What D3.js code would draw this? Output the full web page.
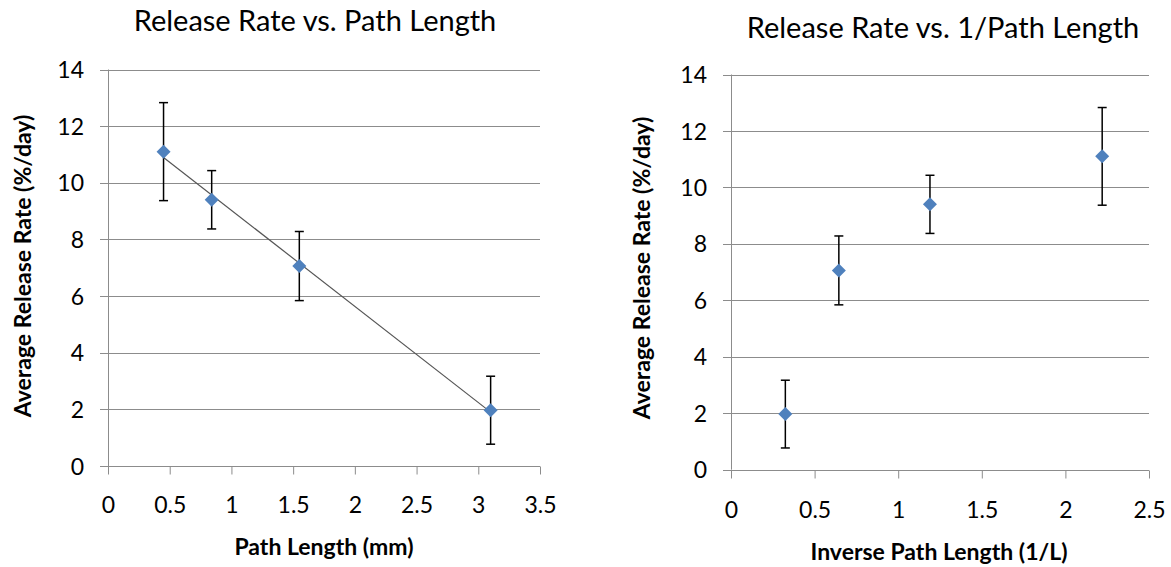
<!DOCTYPE html>
<html>
<head>
<meta charset="utf-8">
<script src="https://cdn.jsdelivr.net/npm/d3@7"></script>
<style>
  html, body { margin: 0; padding: 0; background: #fff; }
  svg { display: block; font-family: Lato, "Open Sans", sans-serif; }
</style>
</head>
<body>
<svg id="chart" width="1171" height="567"></svg>
<script>
// Path length of each sample (mm) and measured average release rate (%/day)
const pathLength = [0.45, 0.84, 1.55, 3.1];
const releaseRate = [11.1, 9.4, 7.06, 1.97];
// Standard deviation of release rate (symmetric error bars)
const rateError = [1.73, 1.03, 1.22, 1.2];
// Inverse path length (1/L)
const inversePath = [2.22, 1.19, 0.645, 0.325];

const xTicksLeft = [0, 0.5, 1, 1.5, 2, 2.5, 3, 3.5];
const xTicksRight = [0, 0.5, 1, 1.5, 2, 2.5];
const yTicks = [0, 2, 4, 6, 8, 10, 12, 14];

const svg = d3.select("#chart");
const gridColor = "#8c8c8c";
const markerColor = "#4f81bd";

function drawPanel(cfg) {
  const x = d3.scaleLinear().domain(cfg.xDomain).range([cfg.left, cfg.right]);
  const y = d3.scaleLinear().domain([0, 14]).range([cfg.bottom, cfg.top]);
  const g = svg.append("g");

  // horizontal gridlines, reaching out past the axis as tick marks
  g.selectAll("line.grid").data(yTicks).join("line")
    .attr("class", "grid")
    .attr("x1", cfg.left - 8).attr("x2", cfg.right)
    .attr("y1", d => Math.round(y(d)) + 0.5).attr("y2", d => Math.round(y(d)) + 0.5)
    .attr("stroke", gridColor).attr("stroke-width", 1);

  // vertical axis line
  g.append("line")
    .attr("x1", Math.round(cfg.left) + 0.5).attr("x2", Math.round(cfg.left) + 0.5)
    .attr("y1", y(0)).attr("y2", y(14))
    .attr("stroke", gridColor);

  // y tick labels
  const yAxis = g.append("g")
    .attr("transform", `translate(${cfg.left},0)`)
    .call(d3.axisLeft(y).tickValues(yTicks).tickSize(0).tickPadding(24).tickFormat(d3.format("d")));
  yAxis.select(".domain").remove();
  yAxis.selectAll("text").attr("font-size", 23).attr("fill", "#000")
    .attr("font-family", "Lato, sans-serif").attr("dy", "0.35em");

  // x axis with downward ticks
  const xAxis = g.append("g")
    .attr("transform", `translate(0,${Math.round(y(0)) + 0.5})`)
    .call(d3.axisBottom(x).tickValues(cfg.xTicks).tickSize(8).tickPadding(0).tickFormat(d => String(d)));
  xAxis.select(".domain").attr("stroke", gridColor).attr("d", `M${cfg.left},0H${cfg.right}`);
  xAxis.selectAll(".tick line").attr("stroke", gridColor);
  xAxis.selectAll("text").attr("font-size", 23).attr("fill", "#000")
    .attr("font-family", "Lato, sans-serif").attr("y", cfg.tickBaseline).attr("dy", 0);

  // optional linear trendline over the data range
  if (cfg.trend) {
    const xs = cfg.xs, ys = cfg.ys;
    const mx = d3.mean(xs), my = d3.mean(ys);
    const sxy = d3.sum(xs, (v, i) => (v - mx) * (ys[i] - my));
    const sxx = d3.sum(xs, v => (v - mx) * (v - mx));
    const slope = sxy / sxx, icpt = my - slope * mx;
    const [x0, x1] = d3.extent(xs);
    g.append("line")
      .attr("x1", x(x0)).attr("y1", y(icpt + slope * x0))
      .attr("x2", x(x1)).attr("y2", y(icpt + slope * x1))
      .attr("stroke", "#555").attr("stroke-width", 1.2);
  }

  const pts = cfg.xs.map((v, i) => ({ x: v, y: cfg.ys[i], e: cfg.err[i] }));

  // error bars
  const eb = g.selectAll("g.err").data(pts).join("g").attr("class", "err")
    .attr("stroke", "#000").attr("stroke-width", 1.5);
  eb.append("line")
    .attr("x1", d => x(d.x)).attr("x2", d => x(d.x))
    .attr("y1", d => y(d.y + d.e)).attr("y2", d => y(d.y - d.e));
  eb.append("line")
    .attr("x1", d => x(d.x) - 4.5).attr("x2", d => x(d.x) + 4.5)
    .attr("y1", d => y(d.y + d.e)).attr("y2", d => y(d.y + d.e));
  eb.append("line")
    .attr("x1", d => x(d.x) - 4.5).attr("x2", d => x(d.x) + 4.5)
    .attr("y1", d => y(d.y - d.e)).attr("y2", d => y(d.y - d.e));

  // diamond markers
  g.selectAll("path.pt").data(pts).join("path")
    .attr("class", "pt")
    .attr("d", d => {
      const cx = x(d.x), cy = y(d.y), r = 7;
      return `M${cx},${cy - r}L${cx + r},${cy}L${cx},${cy + r}L${cx - r},${cy}Z`;
    })
    .attr("fill", markerColor);

  // titles
  g.append("text")
    .attr("x", cfg.titleX).attr("y", cfg.titleY)
    .attr("text-anchor", "middle").attr("font-size", 29).attr("fill", "#000")
    .text(cfg.title);
  g.append("text")
    .attr("x", cfg.xLabelX).attr("y", cfg.xLabelY)
    .attr("text-anchor", "middle").attr("font-size", 23).attr("font-weight", "bold").attr("fill", "#000")
    .text(cfg.xLabel);
  g.append("text")
    .attr("transform", `translate(${cfg.yLabelX},${cfg.yLabelY}) rotate(-90)`)
    .attr("text-anchor", "middle").attr("font-size", 23).attr("font-weight", "bold").attr("fill", "#000")
    .text("Average Release Rate (%/day)");
}

drawPanel({
  xDomain: [0, 3.5], left: 108, right: 540, top: 69.5, bottom: 466,
  xTicks: xTicksLeft, tickBaseline: 46,
  xs: pathLength, ys: releaseRate, err: rateError, trend: true,
  title: "Release Rate vs. Path Length", titleX: 315, titleY: 31,
  xLabel: "Path Length (mm)", xLabelX: 324, xLabelY: 555,
  yLabelX: 31, yLabelY: 266
});

drawPanel({
  xDomain: [0, 2.5], left: 731, right: 1149, top: 74.5, bottom: 469.7,
  xTicks: xTicksRight, tickBaseline: 47,
  xs: inversePath, ys: releaseRate, err: rateError, trend: false,
  title: "Release Rate vs. 1/Path Length", titleX: 943, titleY: 38,
  xLabel: "Inverse Path Length (1/L)", xLabelX: 939, xLabelY: 560,
  yLabelX: 650, yLabelY: 268
});
</script>
</body>
</html>
